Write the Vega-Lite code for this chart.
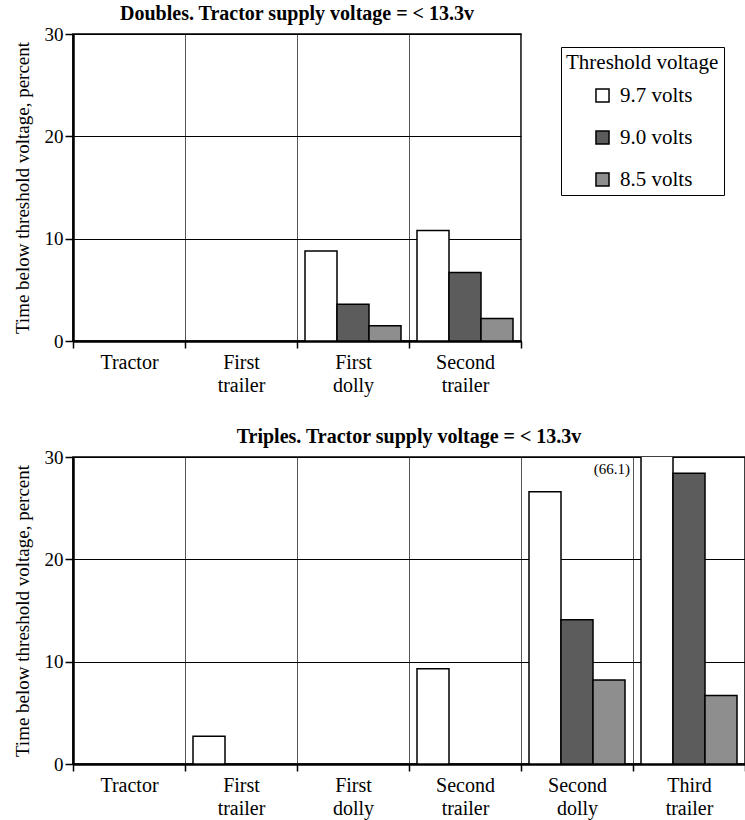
{
  "$schema": "https://vega.github.io/schema/vega-lite/v6.json",
  "background": "white",
  "padding": {"left": 12, "top": 3, "right": 1, "bottom": 2},
  "spacing": 30,
  "config": {
    "font": "Liberation Serif",
    "view": {"stroke": "black", "strokeWidth": 1.5},
    "title": {"font": "Liberation Serif", "fontSize": 20, "fontWeight": "bold", "color": "black", "offset": 1},
    "axis": {
      "labelFont": "Liberation Serif", "titleFont": "Liberation Serif",
      "labelColor": "black", "titleColor": "black",
      "domainColor": "black", "tickColor": "black"
    }
  },
  "datasets": {
    "doubles": [
      {"category": "First dolly", "threshold": "9.7 volts", "value": 8.8},
      {"category": "First dolly", "threshold": "9.0 volts", "value": 3.6},
      {"category": "First dolly", "threshold": "8.5 volts", "value": 1.5},
      {"category": "Second trailer", "threshold": "9.7 volts", "value": 10.8},
      {"category": "Second trailer", "threshold": "9.0 volts", "value": 6.7},
      {"category": "Second trailer", "threshold": "8.5 volts", "value": 2.2}
    ],
    "triples": [
      {"category": "First trailer", "threshold": "9.7 volts", "value": 2.7},
      {"category": "Second trailer", "threshold": "9.7 volts", "value": 9.3},
      {"category": "Second dolly", "threshold": "9.7 volts", "value": 26.6},
      {"category": "Second dolly", "threshold": "9.0 volts", "value": 14.1},
      {"category": "Second dolly", "threshold": "8.5 volts", "value": 8.2},
      {"category": "Third trailer", "threshold": "9.7 volts", "value": 66.1},
      {"category": "Third trailer", "threshold": "9.0 volts", "value": 28.4},
      {"category": "Third trailer", "threshold": "8.5 volts", "value": 6.7}
    ],
    "annot": [
      {"category": "Third trailer", "label": "(66.1)", "value": 30}
    ]
  },
  "vconcat": [
    {
      "width": 448,
      "height": 307,
      "title": "Doubles. Tractor supply voltage = < 13.3v",
      "data": {"name": "doubles"},
      "mark": {"type": "bar", "stroke": "black", "strokeWidth": 1.5, "clip": true},
      "encoding": {
        "x": {
          "field": "category", "type": "nominal", "sort": null,
          "scale": {"domain": ["Tractor", "First trailer", "First dolly", "Second trailer"], "paddingInner": 0, "paddingOuter": 0},
          "axis": {"title": null, "labelAngle": 0, "tickBand": "extent", "grid": true, "gridColor": "#555", "gridWidth": 1,
                   "labelExpr": "split(datum.label, ' ')", "labelFontSize": 20, "labelLineHeight": 23,
                   "domainWidth": 2.5, "tickSize": 7, "tickWidth": 1.5, "labelPadding": 4}
        },
        "xOffset": {"field": "threshold", "type": "nominal", "sort": null,
          "scale": {"domain": ["9.7 volts", "9.0 volts", "8.5 volts"], "paddingInner": 0, "paddingOuter": 0.25}},
        "y": {
          "field": "value", "type": "quantitative",
          "scale": {"domain": [0, 30], "nice": false},
          "axis": {"values": [0, 10, 20, 30], "grid": true, "gridColor": "black", "gridWidth": 1,
                   "domainWidth": 2.5, "tickSize": 8, "tickWidth": 1.5, "labelFontSize": 19, "labelPadding": 2,
                   "title": "Time below threshold voltage, percent", "titleFontSize": 19, "titleFontWeight": "normal", "titlePadding": 12}
        },
        "fill": {
          "field": "threshold", "type": "nominal", "sort": null,
          "scale": {"domain": ["9.7 volts", "9.0 volts", "8.5 volts"], "range": ["white", "#5c5c5c", "#8e8e8e"]},
          "legend": {
            "orient": "none", "legendX": 488, "legendY": 13,
            "title": "Threshold voltage", "titleFont": "Liberation Serif", "titleFontSize": 21, "titleFontWeight": "normal", "titleColor": "black",
            "labelFont": "Liberation Serif", "labelFontSize": 21, "labelColor": "black",
            "symbolType": "square", "symbolSize": 170, "symbolStrokeColor": "black", "symbolStrokeWidth": 1.5,
            "rowPadding": 20, "titlePadding": 12, "padding": 5, "symbolOffset": 26, "labelOffset": 7,
            "strokeColor": "black", "fillColor": "white"
          }
        }
      }
    },
    {
      "width": 672,
      "height": 307,
      "title": "Triples. Tractor supply voltage = < 13.3v",
      "layer": [
        {
          "data": {"name": "triples"},
          "mark": {"type": "bar", "stroke": "black", "strokeWidth": 1.5, "clip": true},
          "encoding": {
            "x": {
              "field": "category", "type": "nominal", "sort": null,
              "scale": {"domain": ["Tractor", "First trailer", "First dolly", "Second trailer", "Second dolly", "Third trailer"], "paddingInner": 0, "paddingOuter": 0},
              "axis": {"title": null, "labelAngle": 0, "tickBand": "extent", "grid": true, "gridColor": "#555", "gridWidth": 1,
                       "labelExpr": "split(datum.label, ' ')", "labelFontSize": 20, "labelLineHeight": 23,
                       "domainWidth": 2.5, "tickSize": 7, "tickWidth": 1.5, "labelPadding": 4}
            },
            "xOffset": {"field": "threshold", "type": "nominal", "sort": null,
              "scale": {"domain": ["9.7 volts", "9.0 volts", "8.5 volts"], "paddingInner": 0, "paddingOuter": 0.25}},
            "y": {
              "field": "value", "type": "quantitative",
              "scale": {"domain": [0, 30], "nice": false},
              "axis": {"values": [0, 10, 20, 30], "grid": true, "gridColor": "black", "gridWidth": 1,
                       "domainWidth": 2.5, "tickSize": 8, "tickWidth": 1.5, "labelFontSize": 19, "labelPadding": 2,
                       "title": "Time below threshold voltage, percent", "titleFontSize": 19, "titleFontWeight": "normal", "titlePadding": 12}
            },
            "fill": {"field": "threshold", "type": "nominal", "sort": null}
          }
        },
        {
          "data": {"name": "annot"},
          "mark": {"type": "text", "align": "right", "baseline": "top", "dx": -3, "dy": 5, "fontSize": 15, "font": "Liberation Serif", "color": "black"},
          "encoding": {
            "x": {"field": "category", "type": "nominal", "bandPosition": 0},
            "y": {"field": "value", "type": "quantitative"},
            "text": {"field": "label"}
          }
        }
      ]
    }
  ]
}
